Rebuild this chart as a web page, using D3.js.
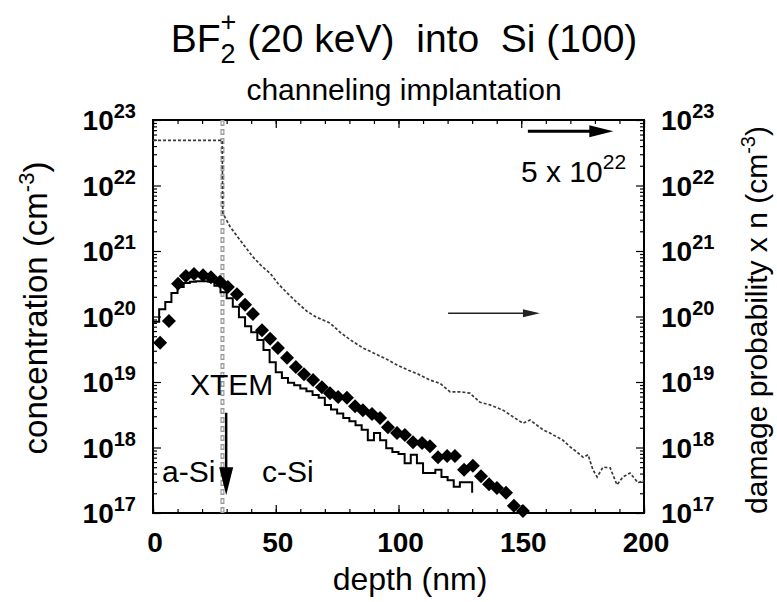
<!DOCTYPE html>
<html><head><meta charset="utf-8">
<script src="https://cdn.jsdelivr.net/npm/d3@7"></script>
<style>
body{margin:0;background:#fff;}
svg{font-family:"Liberation Sans", Arial, Helvetica, sans-serif;}
text{white-space:pre;}
</style></head><body>
<svg id="c" width="777" height="602"></svg>
<script>
// ---------- data ----------
const xTickValues = [0, 50, 100, 150, 200];
const xMinorTickValues = d3.range(0, 201, 10);
const yExponents = [17, 18, 19, 20, 21, 22, 23];

// simulated profile (histogram, 2.5 nm bins, log10 of concentration)
const simBinWidth = 2.5;
const simLog = [19.92, 20.11, 20.22, 20.36, 20.45, 20.51, 20.53, 20.54, 20.54, 20.53,
  20.47, 20.37, 20.28, 20.15, 19.99, 19.85, 19.76, 19.64, 19.49, 19.30,
  19.15, 19.06, 18.99, 18.95, 18.90, 18.86, 18.80, 18.76, 18.65, 18.58,
  18.52, 18.45, 18.40, 18.34, 18.27, 18.11, 18.22, 18.11, 17.99, 17.93,
  17.90, 17.76, 17.89, 17.76, 17.61, 17.61, 17.66, 17.55, 17.50, 17.40,
  17.47, 17.47];
const simEndLog = 17.31;

// SIMS measurement (diamonds)
const simsDepth = [2.9, 6.5, 10.2, 13.4, 16.7, 20.4, 23.6, 27.3, 30.5, 34.2, 37.5, 40.7,
  44.4, 47.7, 50.9, 54.6, 58.2, 61.5, 65.2, 68.8, 72.1, 75.4, 79.0, 82.3, 85.5, 89.2,
  92.5, 95.7, 99.4, 102.6, 105.9, 109.6, 112.8, 116.1, 119.8, 123.0, 126.7, 130.3,
  133.6, 136.9, 140.1, 143.8, 147.0, 150.7];
const simsLog = [19.60, 19.93, 20.50, 20.62, 20.65, 20.63, 20.60, 20.53, 20.45, 20.34, 20.18, 20.04,
  19.79, 19.66, 19.52, 19.37, 19.23, 19.12, 19.03, 18.92, 18.83, 18.77, 18.76, 18.63, 18.57, 18.51,
  18.45, 18.31, 18.22, 18.19, 18.08, 18.07, 18.02, 17.85, 17.87, 17.87, 17.66, 17.72,
  17.56, 17.44, 17.38, 17.31, 17.11, 17.03];

// damage probability x n (right axis)
const damageDepth = [0, 28.2, 28.4, 31.4, 35.4, 40.7, 44.0, 47.7, 51.0, 54.6, 58.5, 62.7, 66.5, 72.1,
  76.2, 80.5, 85.5, 90.0, 95.0, 99.4, 104.0, 108.0, 112.8, 116.9, 121.0, 125.1, 129.1,
  133.2, 137.3, 142.6, 146.6, 150.7, 153.6, 156.4, 158.9, 161.7, 164.6, 167.0, 169.9,
  172.7, 175.2, 177.2, 179.2, 180.9, 183.3, 186.2, 189.0, 191.4, 194.3, 197.6, 200];
const damageLog = [22.69, 22.69, 21.58, 21.37, 21.17, 20.91, 20.78, 20.66, 20.50, 20.36, 20.22, 20.08, 19.99, 19.90,
  19.76, 19.64, 19.52, 19.44, 19.35, 19.26, 19.18, 19.12, 19.03, 18.98, 18.85, 18.85, 18.83,
  18.69, 18.65, 18.57, 18.47, 18.37, 18.42, 18.34, 18.27, 18.22, 18.16, 18.11, 18.01,
  17.93, 17.85, 17.89, 17.66, 17.55, 17.70, 17.69, 17.43, 17.55, 17.61, 17.46, 17.50];

const interfaceDepth = 28.3;

// annotations (data coordinates)
const topArrow = {from: 152.7, to: 187.5, log: 22.83};
const midArrow = {from: 120.2, to: 157.6, log: 20.05};
const xtemArrow = {depth: 29.8, fromLog: 18.53, headLog: 17.70, toLog: 17.27};

// ---------- layout ----------
const svg = d3.select("#c");
const x = d3.scaleLinear().domain([0, 200]).range([153, 644]);
const y = d3.scaleLog().domain([1e17, 1e23]).range([513, 120]);
const yl = v => y(Math.pow(10, v));

// frame
svg.append("rect")
  .attr("x", x(0)).attr("y", y(1e23))
  .attr("width", x(200) - x(0)).attr("height", y(1e17) - y(1e23))
  .attr("fill", "none").attr("stroke", "#000").attr("stroke-width", 2);

function axisG(gen, tx, ty) {
  const g = svg.append("g").attr("transform", `translate(${tx},${ty})`).call(gen);
  g.select(".domain").remove();
  g.selectAll("line").attr("stroke", "#000").attr("stroke-width", 1.2);
  return g;
}
// x ticks (inward)
axisG(d3.axisBottom(x).tickValues(xMinorTickValues).tickSize(-4).tickFormat(""), 0, y(1e17));
axisG(d3.axisBottom(x).tickValues(xTickValues).tickSize(-8).tickFormat(""), 0, y(1e17));
axisG(d3.axisTop(x).tickValues(xMinorTickValues).tickSize(-4).tickFormat(""), 0, y(1e23));
axisG(d3.axisTop(x).tickValues(xTickValues).tickSize(-8).tickFormat(""), 0, y(1e23));
// y ticks (inward)
const yMajor = yExponents.map(e => Math.pow(10, e));
const yMinor = [];
yExponents.slice(0, -1).forEach(e => { for (let m = 2; m <= 9; m++) yMinor.push(m * Math.pow(10, e)); });
axisG(d3.axisLeft(y).tickValues(yMinor).tickSize(-4).tickFormat(""), x(0), 0);
axisG(d3.axisLeft(y).tickValues(yMajor).tickSize(-8).tickFormat(""), x(0), 0);
axisG(d3.axisRight(y).tickValues(yMinor).tickSize(-4).tickFormat(""), x(200), 0);
axisG(d3.axisRight(y).tickValues(yMajor).tickSize(-8).tickFormat(""), x(200), 0);

// x tick labels
svg.append("g").selectAll("text").data(xTickValues).join("text")
  .attr("x", d => x(d) + 2).attr("y", y(1e17) + 39)
  .attr("text-anchor", "middle").attr("font-weight", "bold").attr("font-size", 28)
  .text(d => d);

// y tick labels
function powLabel(sel, anchor, xpos) {
  sel.selectAll("text").data(yExponents).join("text")
    .attr("x", xpos).attr("y", d => y(Math.pow(10, d)) + 10)
    .attr("text-anchor", anchor).attr("font-weight", "bold").attr("font-size", 28)
    .each(function(d) {
      const t = d3.select(this);
      t.append("tspan").text("10");
      t.append("tspan").attr("dy", -12).attr("font-size", 20).text(d);
    });
}
powLabel(svg.append("g"), "end", 136);
powLabel(svg.append("g"), "start", 661);

// axis titles
svg.append("text").attr("transform", "translate(47,308) rotate(-90)")
  .attr("text-anchor", "middle").attr("font-size", 33)
  .call(t => { t.append("tspan").text("concentration (cm");
    t.append("tspan").attr("dy", -13).attr("font-size", 22).text("-3");
    t.append("tspan").attr("dy", 13).text(")"); });
svg.append("text").attr("transform", "translate(767,320) rotate(-90)")
  .attr("text-anchor", "middle").attr("font-size", 30)
  .call(t => { t.append("tspan").text("damage probability x n (cm");
    t.append("tspan").attr("dy", -12).attr("font-size", 20).text("-3");
    t.append("tspan").attr("dy", 12).text(")"); });
svg.append("text").attr("x", 410).attr("y", 590).attr("text-anchor", "middle")
  .attr("font-size", 32).text("depth (nm)");

// title
svg.append("text").attr("x", 404).attr("y", 52).attr("text-anchor", "middle")
  .attr("font-size", 39)
  .call(t => { t.append("tspan").text("BF");
    t.append("tspan").attr("dy", 11).attr("font-size", 27).text("2");
    t.append("tspan").attr("dx", -15).attr("dy", -32).attr("font-size", 27).text("+");
    t.append("tspan").attr("dy", 21).text(" (20 keV)  into  Si (100)"); });
svg.append("text").attr("x", 404).attr("y", 100).attr("text-anchor", "middle")
  .attr("font-size", 30).text("channeling implantation");

// interface (XTEM) vertical dotted line
svg.append("line")
  .attr("x1", x(interfaceDepth)).attr("x2", x(interfaceDepth))
  .attr("y1", y(1e23)).attr("y2", y(1e17))
  .attr("stroke", "#9a9a9a").attr("stroke-width", 4).attr("stroke-dasharray", "6,3");
svg.append("line")
  .attr("x1", x(interfaceDepth)).attr("x2", x(interfaceDepth))
  .attr("y1", y(1e23) + 1.5).attr("y2", y(1e17))
  .attr("stroke", "#fff").attr("stroke-width", 1.6).attr("stroke-dasharray", "3,6");

// damage curve (right axis)
const damage = damageDepth.map((d, i) => [d, damageLog[i]]);
svg.append("path").datum(damage)
  .attr("d", d3.line().x(d => x(d[0])).y(d => yl(d[1])))
  .attr("fill", "none").attr("stroke", "#3a3a3a").attr("stroke-width", 1.7)
  .attr("stroke-dasharray", "3,2");

// simulated histogram
const sim = simLog.map((v, i) => [i * simBinWidth, v]);
sim.push([simLog.length * simBinWidth, simLog[simLog.length - 1]]);
sim.push([simLog.length * simBinWidth, simEndLog]);
svg.append("path").datum(sim)
  .attr("d", d3.line().curve(d3.curveStepAfter).x(d => x(d[0])).y(d => yl(d[1])))
  .attr("fill", "none").attr("stroke", "#000").attr("stroke-width", 2);

// SIMS diamonds
const diamond = d3.symbol().type(d3.symbolSquare).size(98);
svg.append("g").selectAll("path").data(simsDepth.map((d, i) => [d, simsLog[i]])).join("path")
  .attr("d", diamond)
  .attr("transform", d => `translate(${x(d[0])},${yl(d[1])}) rotate(45)`)
  .attr("fill", "#000");

// arrows
function hArrow(a, lw, headLen, headHalf, color) {
  const x0 = x(a.from), x1 = x(a.to), yy = yl(a.log);
  svg.append("line").attr("x1", x0).attr("x2", x1 - headLen + 2).attr("y1", yy).attr("y2", yy)
    .attr("stroke", color).attr("stroke-width", lw);
  svg.append("path").attr("d", `M${x1},${yy}L${x1 - headLen},${yy - headHalf}L${x1 - headLen},${yy + headHalf}Z`)
    .attr("fill", color);
}
hArrow(topArrow, 3, 24, 6, "#000");
hArrow(midArrow, 1.6, 17, 4, "#222");

const ax = x(xtemArrow.depth);
svg.append("line").attr("x1", ax).attr("x2", ax)
  .attr("y1", yl(xtemArrow.fromLog)).attr("y2", yl(xtemArrow.headLog) + 2)
  .attr("stroke", "#000").attr("stroke-width", 2.5);
svg.append("path")
  .attr("d", `M${ax},${yl(xtemArrow.toLog)}L${ax - 7},${yl(xtemArrow.headLog)}L${ax + 7},${yl(xtemArrow.headLog)}Z`)
  .attr("fill", "#000");

// text annotations
svg.append("text").attr("x", 190).attr("y", 395).attr("font-size", 30).text("XTEM");
svg.append("text").attr("x", 162).attr("y", 482).attr("font-size", 30).text("a-Si");
svg.append("text").attr("x", 262).attr("y", 482).attr("font-size", 30).text("c-Si");
svg.append("text").attr("x", 521).attr("y", 182).attr("font-size", 30)
  .call(t => { t.append("tspan").text("5 x 10");
    t.append("tspan").attr("dy", -13).attr("font-size", 21).text("22"); });
</script>
</body></html>
